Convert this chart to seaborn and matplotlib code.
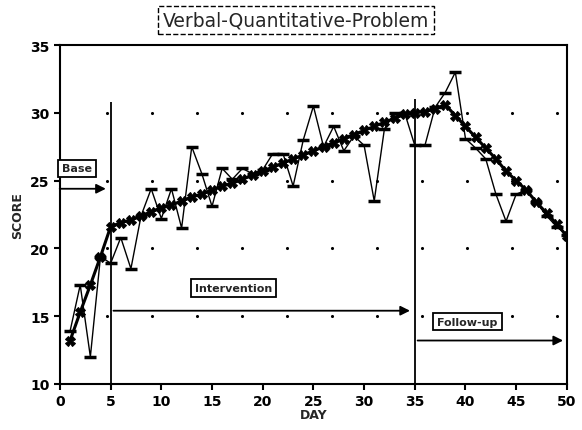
import matplotlib
matplotlib.use("Agg")
import matplotlib.pyplot as plt
import numpy as np
import pandas as pd
import seaborn as sns

# values
days = list(range(1, 51))
raw_score = [13.9, 17.3, 12.0, 19.4, 18.9, 20.8, 18.5, 22.4, 24.4, 22.2,
             24.4, 21.5, 27.5, 25.5, 23.1, 25.9, 25.1, 25.9, 25.5, 25.8,
             27.0, 27.0, 24.6, 28.0, 30.5, 27.5, 29.0, 27.2, 28.3, 27.6,
             23.5, 28.8, 30.0, 30.0, 27.6, 27.6, 30.4, 31.5, 33.0, 28.1,
             27.4, 26.6, 24.0, 22.0, 24.0, 24.3, 23.4, 22.4, 21.6, 21.0]
trend_score = [13.2, 15.3, 17.3, 19.4, 21.6, 21.9, 22.1, 22.4, 22.7, 23.0,
               23.2, 23.5, 23.8, 24.0, 24.3, 24.6, 24.8, 25.1, 25.4, 25.7,
               26.0, 26.3, 26.6, 26.9, 27.2, 27.5, 27.8, 28.1, 28.4, 28.7,
               29.0, 29.3, 29.6, 29.9, 30.0, 30.1, 30.3, 30.6, 29.8, 29.0,
               28.2, 27.4, 26.6, 25.7, 25.0, 24.3, 23.4, 22.6, 21.8, 20.9]

phase_starts = [5, 35]
phase_names = ["Base", "Intervention", "Follow-up"]

df = pd.DataFrame({"DAY": days, "raw": raw_score, "trend": trend_score})

sns.set_style("ticks")
plt.rcParams['font.family'] = ['DejaVu Sans']

fig = plt.figure(figsize=(5.82, 4.31), dpi=100)
ax = fig.add_axes([0.103, 0.107, 0.871, 0.786])

# faint dot grid of the original software
gx = np.arange(4.63, 50, 4.44)
gy = [15, 20, 25, 30]
GX, GY = np.meshgrid(gx, gy)
ax.scatter(GX.ravel(), GY.ravel(), s=1.5, color="black", zorder=1)

sns.lineplot(data=df, x="DAY", y="raw", ax=ax, color="black", lw=1,
             marker="_", markersize=9, markeredgewidth=2.5,
             markeredgecolor="black", zorder=3)
sns.lineplot(data=df, x="DAY", y="trend", ax=ax, color="black", lw=2.2,
             marker="X", markersize=7, markeredgecolor="black", zorder=4)

ax.set_xlim(0, 50)
ax.set_ylim(10, 35)
ax.set_xticks(range(0, 51, 5))
ax.set_yticks(range(10, 36, 5))
for s in ax.spines.values():
    s.set_visible(True)
    s.set_linewidth(1.5)
    s.set_color("black")
ax.tick_params(labelsize=10, width=1.5, length=4, colors="black")
for lab in ax.get_xticklabels() + ax.get_yticklabels():
    lab.set_fontweight("bold")
ax.set_xlabel("DAY", fontsize=9, fontweight="bold", labelpad=0)
ax.set_ylabel("SCORE", fontsize=9, fontweight="bold")

# phase change lines
ax.vlines(phase_starts[0], 10, 30.8, color="black", lw=1.3)
ax.vlines(phase_starts[1], 10, 31.0, color="black", lw=1.3)

box = dict(boxstyle="square,pad=0.35", fc="white", ec="black", lw=1.3)
ax.text(0.2, 25.9, phase_names[0], fontsize=8, fontweight="bold",
        va="center", ha="left", bbox=box, zorder=5)
ax.annotate("", xy=(4.8, 24.4), xytext=(-0.3, 24.4), annotation_clip=False,
            arrowprops=dict(arrowstyle="-|>", color="black", lw=1.3, mutation_scale=14))
ax.text(17.1, 17.1, phase_names[1], fontsize=8, fontweight="bold",
        va="center", ha="center", bbox=box, zorder=5)
ax.annotate("", xy=(34.8, 15.4), xytext=(5, 15.4),
            arrowprops=dict(arrowstyle="-|>", color="black", lw=1.3, mutation_scale=14))
ax.text(40.2, 14.6, phase_names[2], fontsize=8, fontweight="bold",
        va="center", ha="center", bbox=box, zorder=5)
ax.annotate("", xy=(49.9, 13.2), xytext=(35, 13.2),
            arrowprops=dict(arrowstyle="-|>", color="black", lw=1.3, mutation_scale=14))

fig.text(0.508, 0.952, "Verbal-Quantitative-Problem", ha="center", va="center",
         fontsize=13.5,
         bbox=dict(boxstyle="square,pad=0.25", fc="white", ec="black", lw=1, ls="--"))

fig.savefig("out.png", dpi=100)
